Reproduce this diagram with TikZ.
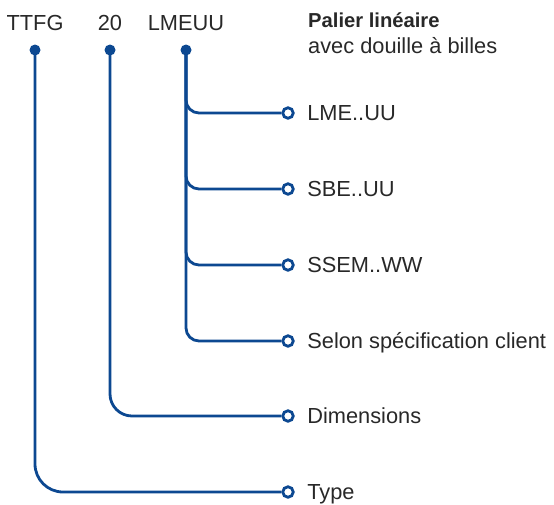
\documentclass[tikz,border=0pt]{standalone}
\usepackage{fontspec}
\setmainfont{Liberation Sans}
\usetikzlibrary{positioning}
\definecolor{codeblue}{RGB}{12,72,145}
\definecolor{codetext}{RGB}{40,40,40}
\begin{document}
\begin{tikzpicture}[x=1pt,y=-1pt,
  every node/.style={font=\fontsize{21.8}{26}\selectfont, text=codetext, inner sep=0pt},
  dot/.style={circle, fill=codeblue, minimum size=11pt},
  ring/.style={circle, draw=codeblue, fill=white, line width=2.8pt, minimum size=10.5pt},
  lbl/.style={text height=15.5pt, text depth=0pt},
  branch/.style={draw=codeblue, line width=2.8pt}]
  \useasboundingbox (0,0) rectangle (554,504);
  \node[anchor=base] (ttfg) at (35,30) {TTFG};
  \node[anchor=base] (size) at (110,30) {20};
  \node[anchor=base] (lmeuu) at (186,30) {LMEUU};
  \node[anchor=base west] (title) at (308,27) {\fontsize{20.2}{24}\selectfont\bfseries Palier linéaire};
  \node[anchor=base west] (sub) at (308,53) {avec douille à billes};
  \node[dot] (dtype) at (35,50) {};
  \node[dot] (ddim) at (110,50) {};
  \node[dot] (dlme) at (186,50) {};
  \foreach \y/\rname/\txt in {113/r1/LME..UU, 189/r2/SBE..UU, 265/r3/SSEM..WW,
      341/r4/Selon spécification client}
  {
    \node[ring] (\rname) at (288,\y) {};
    \draw[branch, rounded corners=13pt] (dlme.center) |- (\rname.west);
    \node[lbl, right=12.5pt of \rname] (t\rname) {\txt};
  }
  \node[ring] (rdim) at (288,416) {};
  \node[ring] (rtype) at (288,492) {};
  \draw[branch, rounded corners=22pt] (ddim.center) |- (rdim.west);
  \draw[branch, rounded corners=28pt] (dtype.center) |- (rtype.west);
  \node[lbl, right=12.5pt of rdim] (tdim) {Dimensions};
  \node[lbl, right=12.5pt of rtype] (ttype) {Type};
\end{tikzpicture}
\end{document}
